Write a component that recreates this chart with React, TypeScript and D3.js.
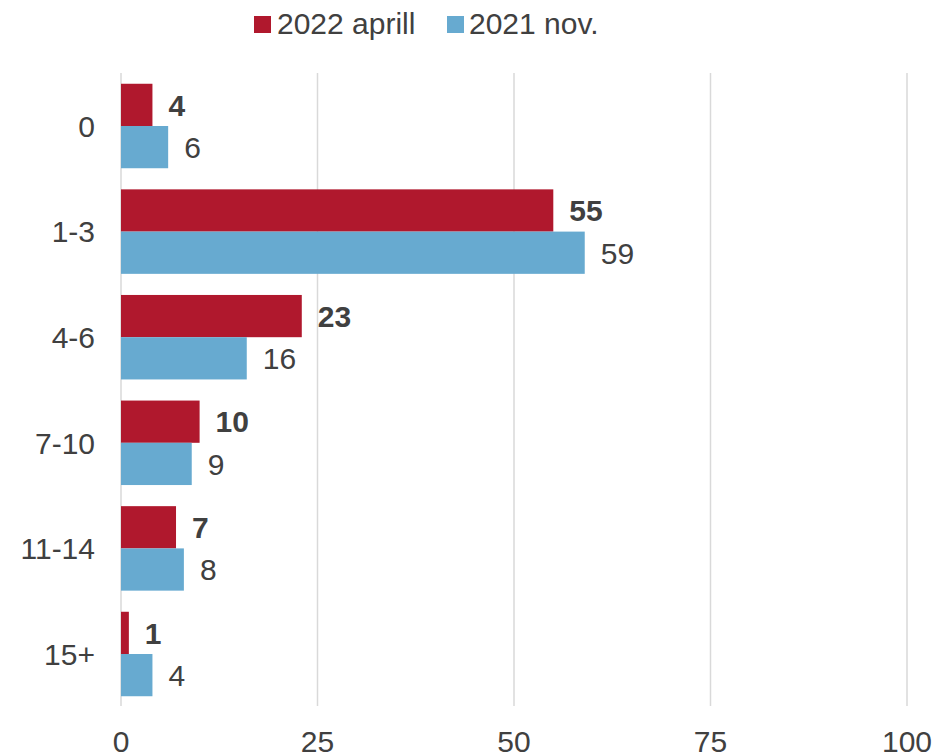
import React from "react";
import * as d3 from "d3";

const categories = ["0", "1-3", "4-6", "7-10", "11-14", "15+"];
const series2022 = [4, 55, 23, 10, 7, 1];
const series2021 = [6, 59, 16, 9, 8, 4];
const xTicks = [0, 25, 50, 75, 100];
const seriesNames = ["2022 aprill", "2021 nov."];
const colors = ["#B0182D", "#67AAD0"];

const W = 939;
const H = 755;
const FONT = "'Liberation Sans', Arial, sans-serif";
const TEXT = "#404040";
const FS = 30;

export default function App() {
  const x = d3.scaleLinear().domain([0, 100]).range([121, 907]);
  const y = d3
    .scaleBand<string>()
    .domain(categories)
    .range([73.2, 706.8])
    .paddingInner(0.2)
    .paddingOuter(0.1);
  const sub = d3.scaleBand<number>().domain([0, 1]).range([0, y.bandwidth()]);
  const all = [series2022, series2021];

  return (
    <svg
      width={W}
      height={H}
      style={{ position: "absolute", left: 0, top: 0, background: "#fff" }}
      fontFamily={FONT}
    >
      {/* legend */}
      <g>
        <rect x={254} y={16} width={17} height={17} fill={colors[0]} />
        <text x={277} y={34} fontSize={FS} fill={TEXT}>
          {seriesNames[0]}
        </text>
        <rect x={447} y={16} width={17} height={17} fill={colors[1]} />
        <text x={469} y={34} fontSize={FS} fill={TEXT}>
          {seriesNames[1]}
        </text>
      </g>
      {/* grid */}
      {xTicks.map((t) => (
        <line
          key={t}
          x1={x(t)}
          x2={x(t)}
          y1={73}
          y2={706}
          stroke="#D9D9D9"
          strokeWidth={1.5}
        />
      ))}
      {xTicks.map((t) => (
        <text
          key={"t" + t}
          x={x(t)}
          y={752}
          fontSize={FS}
          fill={TEXT}
          textAnchor="middle"
        >
          {t}
        </text>
      ))}
      {categories.map((c, i) => (
        <g key={c}>
          <text
            x={95}
            y={(y(c) as number) + y.bandwidth() / 2}
            dy="0.36em"
            fontSize={FS}
            fill={TEXT}
            textAnchor="end"
          >
            {c}
          </text>
          {all.map((s, k) => {
            const yy = (y(c) as number) + (sub(k) as number);
            const h = sub.bandwidth();
            return (
              <g key={k}>
                <rect
                  x={x(0)}
                  y={yy}
                  width={x(s[i]) - x(0)}
                  height={h}
                  fill={colors[k]}
                />
                <text
                  x={x(s[i]) + 16}
                  y={yy + h / 2}
                  dy="0.36em"
                  fontSize={FS}
                  fontWeight={k === 0 ? "bold" : "normal"}
                  fill={TEXT}
                >
                  {s[i]}
                </text>
              </g>
            );
          })}
        </g>
      ))}
    </svg>
  );
}
